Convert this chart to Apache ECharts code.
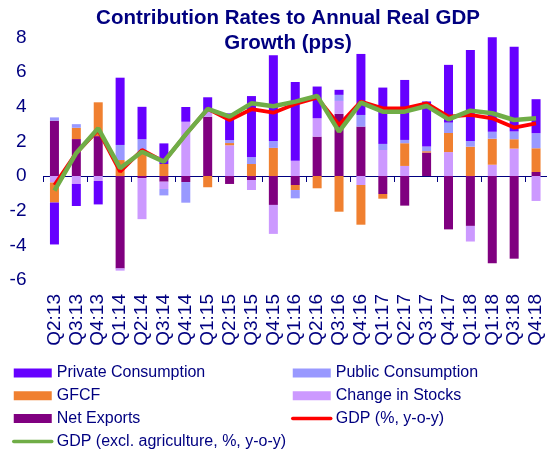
<!DOCTYPE html>
<html>
<head>
<meta charset="utf-8">
<script src="https://cdn.jsdelivr.net/npm/echarts@6/dist/echarts.min.js"></script>
<style>
  html, body { margin: 0; padding: 0; background: #fff; }
  #chart { width: 547px; height: 451px; }
</style>
</head>
<body>
<div id="chart"></div>
<script>
// quarters (the source repeats Q1:18, kept as drawn)
const categories = ['Q2:13', 'Q3:13', 'Q4:13', 'Q1:14', 'Q2:14', 'Q3:14', 'Q4:14', 'Q1:15',
  'Q2:15', 'Q3:15', 'Q4:15', 'Q1:16', 'Q2:16', 'Q3:16', 'Q4:16', 'Q1:17', 'Q2:17', 'Q3:17',
  'Q4:17', 'Q1:18', 'Q1:18', 'Q3:18', 'Q4:18'];

const privateCons = [-2.42, -1.27, -1.35, 3.88, 1.87, 1.19, 0.85, 0.82, 1.54, 3.52, 4.94, 4.54,
  1.83, 0.29, 3.52, 3.25, 3.46, 2.6, 3.33, 5.25, 5.48, 4.9, 1.96];
const publicCons = [0.19, 0.21, 0, 0.87, 0.85, -0.37, -1.19, 0, 0.17, 0.4, 0.4, -0.48,
  0, 0.35, 0.67, 0.35, 0.19, 0.27, 0.6, 0.33, 0.4, 0.44, 0.87];
const gfcf = [-1.15, 0.65, 1.95, 0.92, 1.27, 0.69, 0, -0.65, 0.13, 0.69, 1.62, -0.29,
  -0.71, -2.06, -2.29, -0.27, 1.31, 0.08, 1.1, 1.69, 1.5, 0.54, 1.37];
const stocks = [-0.38, -0.46, -0.29, -0.13, -2.37, -0.42, 3.13, 0.3, 1.77, -0.58, -1.67, 0.88,
  1.06, 0.75, -0.52, 1.5, 0.58, 0, 1.38, -0.9, 0.65, 1.58, -1.44];
const netExports = [3.19, 2.13, 2.3, -5.33, -0.12, -0.33, -0.35, 3.42, -0.46, -0.23, -1.67, -0.52,
  2.27, 3.58, 2.85, -1.04, -1.71, 1.35, -3.08, -2.88, -5.04, -4.77, 0.23];
const gdp = [-0.52, 1.33, 2.65, 0.25, 1.5, 0.83, 2.4, 3.87, 3.23, 3.85, 3.65, 4.15,
  4.52, 2.94, 4.29, 3.9, 3.9, 4.19, 3.42, 3.52, 3.33, 2.79, 3.04];
const gdpExAgri = [-0.85, 1.33, 2.75, 0.45, 1.4, 0.83, 2.4, 3.87, 3.42, 4.19, 4.02, 4.29,
  4.62, 2.56, 4.23, 3.71, 3.71, 4.04, 3.27, 3.77, 3.62, 3.23, 3.33];

const navy = '#000080';
const font = 'Liberation Sans, Arial, sans-serif';

function bar(name, data, color) {
  return {
    name: name,
    type: 'bar',
    stack: 'total',
    barWidth: 9,
    data: data,
    itemStyle: { color: color },
    emphasis: { disabled: true }
  };
}

function legendBox(left, items) {
  return {
    orient: 'vertical',
    left: left,
    top: 365,
    padding: 0,
    itemWidth: 38,
    itemHeight: 9,
    itemGap: 6.8,
    textStyle: { color: navy, fontSize: 16 },
    data: items
  };
}

// legend line entries: hide the marker dot ECharts adds on line icons
const lineItem = (name) => ({
  name: name,
  itemStyle: { opacity: 0 },
  lineStyle: { width: 3.5, cap: 'round' }
});

const chart = echarts.init(document.getElementById('chart'));
chart.setOption({
  animation: false,
  textStyle: { fontFamily: font },
  graphic: [{
    type: 'text',
    x: 288,
    y: 6,
    style: {
      text: 'Contribution Rates to Annual Real GDP\nGrowth (pps)',
      fill: navy,
      font: 'bold 20.5px ' + font,
      align: 'center',
      lineHeight: 25
    }
  }],
  legend: [
    legendBox(12, [
      { name: 'Private Consumption', icon: 'rect' },
      { name: 'GFCF', icon: 'rect' },
      { name: 'Net Exports', icon: 'rect' },
      lineItem('GDP (excl. agriculture, %, y-o-y)')
    ]),
    legendBox(291, [
      { name: 'Public Consumption', icon: 'rect' },
      { name: 'Change in Stocks', icon: 'rect' },
      lineItem('GDP (%, y-o-y)')
    ])
  ],
  grid: { left: 43.5, top: 37.3, width: 506, height: 242.7 },
  xAxis: [
    {
      type: 'category',
      data: categories,
      position: 'bottom',
      axisLine: { show: false, onZero: false },
      axisTick: { show: false },
      axisLabel: { interval: 0, rotate: 90, margin: 14, color: navy, fontSize: 19 }
    },
    {
      type: 'category',
      data: categories,
      position: 'bottom',
      axisLine: { onZero: true, lineStyle: { color: navy, width: 1 } },
      axisTick: { show: true, length: 6, lineStyle: { color: navy } },
      axisLabel: { show: false }
    }
  ],
  yAxis: {
    type: 'value',
    min: -6,
    max: 8,
    interval: 2,
    axisLine: { show: false },
    axisTick: { show: false },
    splitLine: { show: false },
    axisLabel: { margin: 17, color: navy, fontSize: 19 }
  },
  series: [
    bar('Net Exports', netExports, '#800080'),
    bar('Change in Stocks', stocks, '#CC99FF'),
    bar('GFCF', gfcf, '#F08030'),
    bar('Public Consumption', publicCons, '#9999FF'),
    bar('Private Consumption', privateCons, '#6600FF'),
    {
      name: 'GDP (%, y-o-y)',
      type: 'line',
      data: gdp,
      symbol: 'none',
      lineStyle: { color: '#FF0000', width: 3.8 },
      itemStyle: { color: '#FF0000' },
      z: 3
    },
    {
      name: 'GDP (excl. agriculture, %, y-o-y)',
      type: 'line',
      data: gdpExAgri,
      symbol: 'none',
      lineStyle: { color: '#70AD47', width: 4.5 },
      itemStyle: { color: '#70AD47' },
      z: 4
    }
  ]
});
</script>
</body>
</html>
